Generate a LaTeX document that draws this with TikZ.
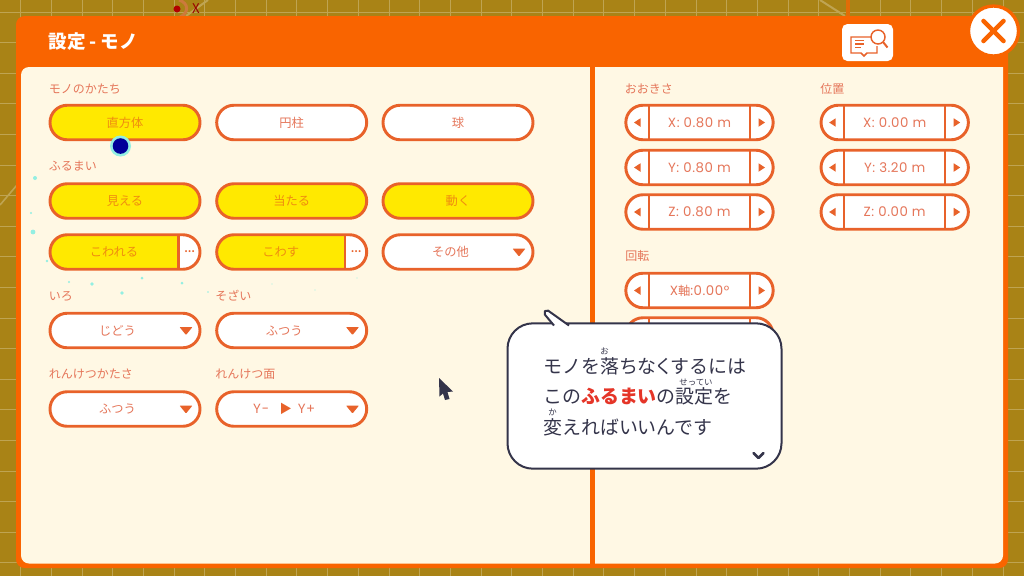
\documentclass[tikz,border=0pt]{standalone}
\usepackage{fontspec}
\setmainfont{Noto Sans CJK JP}
\newfontfamily\latinfont[LetterSpace=4]{Poppins}
\definecolor{ground}{HTML}{A98316}
\definecolor{groundline}{HTML}{BFA452}
\definecolor{headbar}{HTML}{F96400}
\definecolor{cream}{HTML}{FFF8E4}
\definecolor{edgeline}{HTML}{E8622A}
\definecolor{btnyellow}{HTML}{FFE900}
\definecolor{btntext}{HTML}{EF8C10}
\definecolor{labeltext}{HTML}{E5765A}
\definecolor{inkdark}{HTML}{34344A}
\definecolor{spark}{HTML}{93EFE2}
\definecolor{hotword}{HTML}{E53528}
\definecolor{gizmoarc}{HTML}{CC7A3C}
\tikzset{
	btnoff/.style={draw=edgeline, fill=white, line width=2.2pt, rounded corners=12.9pt, minimum width=112.5pt, minimum height=25.9pt, inner sep=0pt, outer sep=0pt, text height=7.5pt, text depth=0.5pt, font=\fontsize{9.2}{11}\selectfont, text=labeltext},
	btnon/.style={btnoff, fill=btnyellow, text=btntext},
	btnsplit/.style={btnoff, text=btntext, path picture={\fill[btnyellow, sharp corners] (path picture bounding box.south west) rectangle ([xshift=-17.25pt]path picture bounding box.north east);}},
	stepbox/.style={btnoff, minimum width=110.5pt},
	grouplabel/.style={anchor=west, inner sep=0pt, font=\fontsize{9}{11}\selectfont, text=labeltext},
	divider/.style={draw=edgeline, line width=1.8pt},
	tipmark/.style={fill=edgeline},
	moredots/.style={inner sep=0pt, text=edgeline, font=\fontsize{7}{8}\selectfont\bfseries},
	speech/.style={draw=inkdark, fill=white, line width=1.5pt},
	talk/.style={anchor=west, inner sep=0pt, font=\fontsize{14.2}{16}\selectfont, text=inkdark},
	ruby/.style={inner sep=0pt, font=\fontsize{6.3}{7}\selectfont, text=inkdark},
	sparkdot/.style={fill=spark},
}
% stepper with arrows on both ends
\newcommand{\stepbtn}[4]{
	\node[stepbox] (#1) at (#2,#3) {#4};
	\draw[divider] (#1.north) ++(-50.5,0) -- ++(0,34.5);
	\draw[divider] (#1.north) ++(50.5,0) -- ++(0,34.5);
	\fill[tipmark] (#1) ++(-65.5,0) -- ++(6.5,-4.25) -- ++(0,8.5) -- cycle;
	\fill[tipmark] (#1) ++(65.5,0) -- ++(-6.5,-4.25) -- ++(0,8.5) -- cycle;
}
% triangle of a drop-down button
\newcommand{\dropmark}[2]{
	\fill[tipmark, rounded corners=0.5pt] (#1,#2) ++(-6.5,-3.5) -- ++(13,0) -- ++(-6.5,8) -- cycle;
}
% text of a drop-down button sits left of the middle
\newcommand{\nudge}{\hspace*{-11.25pt}}
\newcommand{\lat}[1]{{\latinfont\fontsize{10}{11}\selectfont #1}}
\begin{document}
\begin{tikzpicture}[x=0.75pt, y=-0.75pt]
	\useasboundingbox (0,0) rectangle (1024,576);

	% Ground behind the panel
	\fill[ground] (0,0) rectangle (1024,576);
	\foreach \gx in {20.5,51.2,...,1024}
		\draw[groundline, line width=0.5pt] (\gx,0) -- (\gx,576);
	\foreach \gy in {12,42.6,...,576}
		\draw[groundline, line width=0.5pt] (0,\gy) -- (1024,\gy);
	\draw[groundline, line width=1.5pt] (186,16) -- (208,0);
	\draw[groundline, line width=1.2pt] (0,205) -- (17,185);
	\draw[groundline, line width=1.5pt] (820,0) -- (845,16);
	\draw[color=headbar!70!ground, line width=3pt] (848,0) -- (848,16);
	\draw[gizmoarc, line width=2.2pt] (179,0) .. controls (189,3) and (189,13) .. (180,17);
	\fill[red!70!black] (177,9) circle (3.5);
	\node[inner sep=0pt, font=\fontsize{10}{11}\selectfont, text=red!60!black] (axisx) at (196,8.5) {X};

	% Panel
	\fill[headbar, rounded corners=6.5pt] (16,16) rectangle (1008,568);
	\fill[cream] (21,67) -- (1003,67) [rounded corners=6pt] -- (1003,563.5) -- (21,563.5) -- cycle;
	\fill[headbar] (590,67) rectangle (594.5,564);
	\node[anchor=west, inner sep=0pt, text=white, font=\fontsize{13.9}{15}\selectfont\bfseries] (title) at (48.5,42) {設定\hspace{3pt}-\hspace{3pt}モノ};

	% Book button
	\fill[white, rounded corners=4pt] (842,24) rectangle (893,61);
	\draw[edgeline, line width=1.1pt] (871,37) -- (851,37) -- (851,53) -- (861,53) -- (864,56) -- (867,53) -- (877,53) -- (877,46);
	\draw[edgeline, line width=1.1pt] (878,37) circle (7);
	\draw[edgeline, line width=1.5pt] (883,42) -- (887.5,47.5);
	\draw[edgeline, line width=1pt] (855,40.5) -- (864,40.5) (855,44) -- (864,44) (855,47.5) -- (861,47.5);

	% Close button
	\node[circle, draw=headbar, fill=white, line width=2.5pt, minimum size=37.5pt, inner sep=0pt] (closer) at (993.5,31) {};
	\draw[headbar, line width=3.4pt, line cap=round] (closer) ++(-10,-10) -- ++(20,20);
	\draw[headbar, line width=3.4pt, line cap=round] (closer) ++(10,-10) -- ++(-20,20);

	% Sparks
	\fill[sparkdot] (35,178) circle (2);
	\fill[sparkdot] (31,213) circle (1.2);
	\fill[sparkdot] (33,232) circle (2.4);
	\fill[sparkdot] (47,261) circle (1.3);
	\fill[sparkdot] (69,282) circle (1.2);
	\fill[sparkdot] (92,284) circle (1.8);
	\fill[sparkdot] (122,293) circle (1.8);
	\fill[sparkdot] (142,278) circle (1.5);
	\fill[sparkdot] (182,283) circle (1.5);
	\fill[sparkdot] (208,292) circle (0.9);
	\fill[sparkdot, opacity=0.4] (272,284) circle (0.9);
	\fill[sparkdot, opacity=0.4] (315,290) circle (0.8);
	\fill[sparkdot, opacity=0.4] (357,278) circle (0.8);

	% Shape
	\node[grouplabel] (shapelabel) at (48.5,89) {モノのかたち};
	\node[btnon] (cube) at (125,122.5) {直方体};
	\node[btnoff] (cylinder) at (291.7,122.5) {円柱};
	\node[btnoff] (sphere) at (458,122.5) {球};

	% Behaviour
	\node[grouplabel] (behavelabel) at (48.5,166.5) {ふるまい};
	\node[btnon] (visible) at (125,201) {見える};
	\node[btnon] (hitting) at (291.7,201) {当たる};
	\node[btnon] (moving) at (458,201) {動く};
	\node[btnsplit] (breakable) at (125,252) {\hspace*{-16.5pt}こわれる};
	\draw[divider] (breakable.north) ++(53.3,0) -- ++(0,34.5);
	\node[moredots] (breakmore) at (189.5,252) {…};
	\node[btnsplit] (breaker) at (291.7,252) {\hspace*{-16.5pt}こわす};
	\draw[divider] (breaker.north) ++(53.3,0) -- ++(0,34.5);
	\node[moredots] (breakermore) at (356.2,252) {…};
	\node[btnoff] (others) at (458,252) {\nudge その他};
	\dropmark{519}{252}

	% Colour and material
	\node[grouplabel] (colorlabel) at (48.5,296) {いろ};
	\node[grouplabel] (stufflabel) at (215,296) {そざい};
	\node[btnoff] (colorauto) at (125,330.5) {\nudge じどう};
	\dropmark{186}{330.5}
	\node[btnoff] (stuffplain) at (291.7,330.5) {\nudge ふつう};
	\dropmark{352.5}{330.5}

	% Linking
	\node[grouplabel] (stifflabel) at (48.5,374) {れんけつかたさ};
	\node[grouplabel] (facelabel) at (215,374) {れんけつ面};
	\node[btnoff] (stiffplain) at (125,409) {\nudge ふつう};
	\dropmark{186}{409}
	\node[btnoff] (faceaxis) at (291.7,409) {\nudge \lat{Y−}\hspace{8pt}\textcolor{edgeline}{▶}\hspace{4.5pt}\lat{Y+}};
	\dropmark{352.5}{409}

	% Size
	\node[grouplabel] (sizelabel) at (624.5,89) {おおきさ};
	\stepbtn{sizex}{699.5}{122.5}{\lat{X: 0.80 m}}
	\stepbtn{sizey}{699.5}{167.5}{\lat{Y: 0.80 m}}
	\stepbtn{sizez}{699.5}{212}{\lat{Z: 0.80 m}}

	% Position
	\node[grouplabel] (placelabel) at (820,89) {位置};
	\stepbtn{placex}{894.7}{122.5}{\lat{X: 0.00 m}}
	\stepbtn{placey}{894.7}{167.5}{\lat{Y: 3.20 m}}
	\stepbtn{placez}{894.7}{212}{\lat{Z: 0.00 m}}

	% Rotation
	\node[grouplabel] (turnlabel) at (625,256) {回転};
	\stepbtn{turnx}{699.5}{290.5}{\lat{X}軸\lat{:0.00°}}
	\stepbtn{turny}{699.5}{335}{}

	% Blue dot on the first button
	\fill[spark] (120.5,146) circle (10.5);
	\fill[blue!60!black] (120.5,146) circle (7.8);

	% Speech bubble
	\node[speech, rounded corners=19pt, minimum width=205.5pt, minimum height=109pt, inner sep=0pt] (bubble) at (644.5,396) {};
	\draw[speech, rounded corners=1.5pt] (554,325.5) -- (543.5,313) -- (546.5,309.5) -- (569,325.5);
	\node[talk] (lineone) at (543,366) {モノを落ちな\hspace{-2pt}く\hspace{-2pt}するには};
	\node[talk] (linetwo) at (543,396.5) {この\textcolor{hotword}{\bfseries ふるまい}の設定を};
	\node[talk] (linethree) at (543,427) {変えればいいんです};
	\node[ruby] (rubyfall) at (604.5,351.5) {お};
	\node[ruby] (rubyset) at (696,382) {せってい};
	\node[ruby] (rubychange) at (552.5,412.5) {か};
	\draw[inkdark, line width=2pt, line cap=round, line join=round] (753.5,453) -- (758.5,458) -- (763.5,453);

	% Cursor
	\fill[inkdark] (439,378) -- (453,391.5) -- (447.5,392) -- (449.5,399) -- (445,400) -- (443,393.5) -- (439.5,396.5) -- cycle;
\end{tikzpicture}
\end{document}
